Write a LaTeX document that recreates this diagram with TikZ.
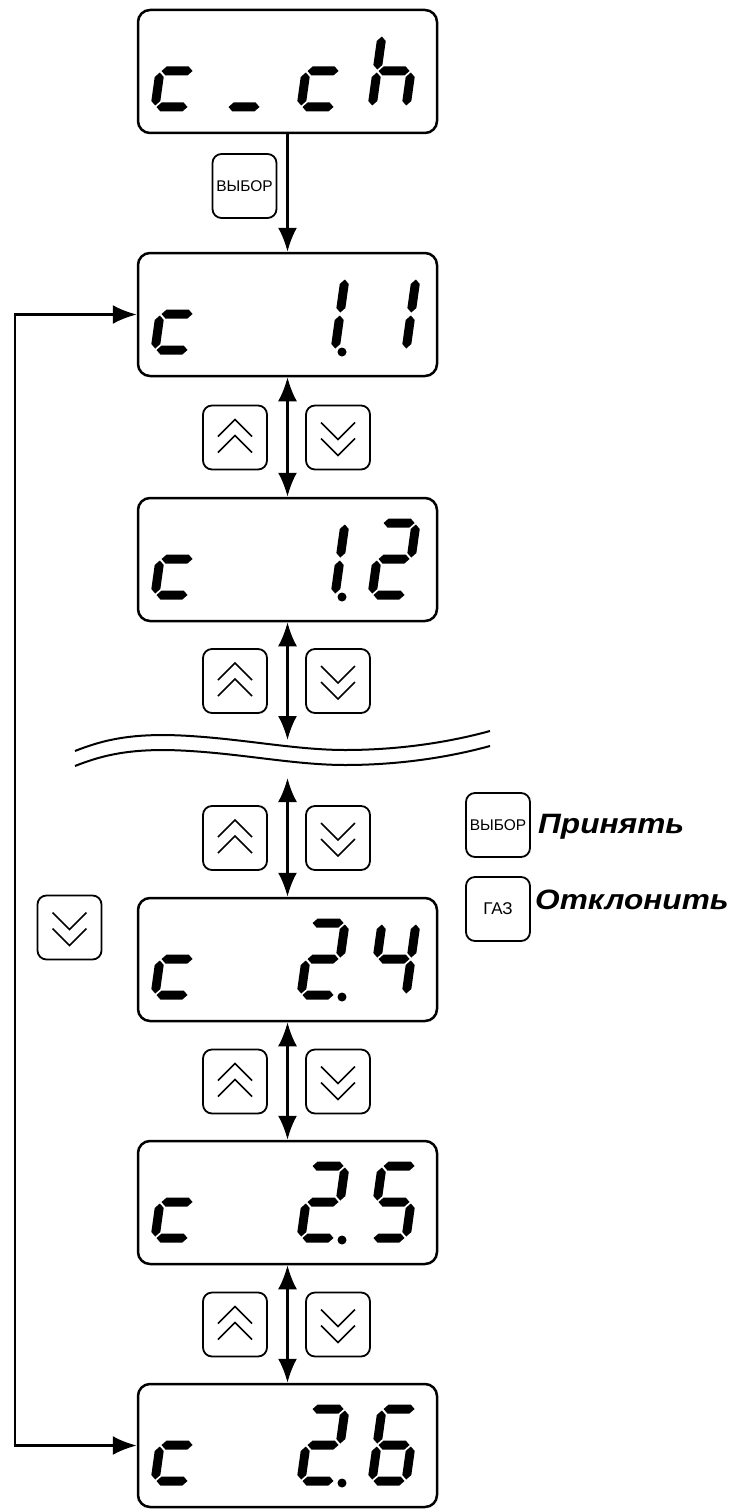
\documentclass[tikz,border=0pt]{standalone}
\usepackage{fontspec}
\newfontfamily\keyfont{Liberation Sans}
\newfontfamily\legendfont[FakeStretch=1.13]{Liberation Sans}
\usetikzlibrary{arrows.meta}

% one segment of the indicator, local (u,v) with v up
\newcommand\hseg[1]{\fill (1.5,#1) -- (6,#1+4.5) -- (28,#1+4.5) -- (32.5,#1)
  -- (28,#1-4.5) -- (6,#1-4.5) -- cycle;}
\newcommand\vseg[2]{\fill (#1,#2+1.5) -- (#1+4.5,#2+6) -- (#1+4.5,#2+30)
  -- (#1,#2+34.5) -- (#1-4.5,#2+30) -- (#1-4.5,#2+6) -- cycle;}
% characters
\newcommand\lcdc{\hseg{36}\hseg{0}\vseg{0}{0}}
\newcommand\lcdbar{\hseg{0}}
\newcommand\lcdh{\vseg{0}{36}\vseg{0}{0}\hseg{36}\vseg{34}{0}}
\newcommand\lcdone{\vseg{34}{36}\vseg{34}{0}}
\newcommand\lcdtwo{\hseg{72}\vseg{34}{36}\hseg{36}\vseg{0}{0}\hseg{0}}
\newcommand\lcdfour{\vseg{0}{36}\hseg{36}\vseg{34}{36}\vseg{34}{0}}
\newcommand\lcdfive{\hseg{72}\vseg{0}{36}\hseg{36}\vseg{34}{0}\hseg{0}}
\newcommand\lcdsix{\hseg{72}\vseg{0}{36}\hseg{36}\vseg{0}{0}\vseg{34}{0}\hseg{0}}
\newcommand\lcdat[3]{\begin{scope}[shift={(#1,#2)},xslant=0.14,yscale=-1]#3\end{scope}}
\newcommand\lcddot[1]{\fill (342,#1+2) circle (4.5);}
% key symbols
\newcommand\keyup[1]{%
  \draw[chev] ([shift={(-17,-1)}]#1.center) -- ++(17,-17) -- ++(17,17);
  \draw[chev] ([shift={(-17,15)}]#1.center) -- ++(17,-17) -- ++(17,17);}
\newcommand\keydown[1]{%
  \draw[chev] ([shift={(-17,-15)}]#1.center) -- ++(17,17) -- ++(17,-17);
  \draw[chev] ([shift={(-17,1)}]#1.center) -- ++(17,17) -- ++(17,-17);}

\begin{document}
\begin{tikzpicture}[x=1pt,y=-1pt,
    >={Latex[length=24pt,width=19pt]},
    lcdbox/.style={draw,line width=2.5pt,rounded corners=12pt,
      minimum width=299pt,minimum height=123pt,inner sep=0pt},
    keybox/.style={draw,line width=1.8pt,rounded corners=9pt,
      minimum size=64pt,inner sep=0pt,
      font=\keyfont\fontsize{15.5}{15.5}\selectfont},
    flow/.style={line width=2.5pt},
    chev/.style={line width=1.7pt},
    breakline/.style={line width=2pt},
    legend/.style={anchor=west,inner sep=0pt,
      font=\legendfont\bfseries\itshape\fontsize{28}{28}\selectfont}]
  \useasboundingbox (0,0) rectangle (735,1509);

  % indicators
  \node[lcdbox] (dchch) at (287.5,71.5) {};
  \node[lcdbox] (d11) at (287.5,314.5) {};
  \node[lcdbox] (d12) at (287.5,559.5) {};
  \node[lcdbox] (d24) at (287.5,959.5) {};
  \node[lcdbox] (d25) at (287.5,1202.5) {};
  \node[lcdbox] (d26) at (287.5,1445.5) {};

  \lcdat{155}{107}{\lcdc}\lcdat{227}{107}{\lcdbar}
  \lcdat{301}{107}{\lcdc}\lcdat{372}{107}{\lcdh}
  \lcdat{155}{350}{\lcdc}\lcdat{301}{350}{\lcdone}
  \lcddot{350}\lcdat{372}{350}{\lcdone}
  \lcdat{155}{595}{\lcdc}\lcdat{301}{595}{\lcdone}
  \lcddot{595}\lcdat{372}{595}{\lcdtwo}
  \lcdat{155}{995}{\lcdc}\lcdat{301}{995}{\lcdtwo}
  \lcddot{995}\lcdat{372}{995}{\lcdfour}
  \lcdat{155}{1238}{\lcdc}\lcdat{301}{1238}{\lcdtwo}
  \lcddot{1238}\lcdat{372}{1238}{\lcdfive}
  \lcdat{155}{1481}{\lcdc}\lcdat{301}{1481}{\lcdtwo}
  \lcddot{1481}\lcdat{372}{1481}{\lcdsix}

  % keys between the indicators
  \node[keybox] (sel) at (244.5,186) {ВЫБОР};
  \foreach \n/\y in {a/437.5,b/681,c/838,d/1081.5,e/1324.5} {
    \node[keybox] (up\n) at (235,\y) {};
    \node[keybox] (dn\n) at (338,\y) {};
    \keyup{up\n}
    \keydown{dn\n}
  }
  \node[keybox] (dnloop) at (69.5,927.5) {};
  \keydown{dnloop}

  % arrows
  \coordinate (gapt) at (287.5,740);
  \coordinate (gapb) at (287.5,778);
  \coordinate (loopx) at (15,900);
  \draw[flow,->] (dchch.south) -- (d11.north);
  \draw[flow,<->] (d11.south) -- (d12.north);
  \draw[flow,<->] (d12.south) -- (gapt);
  \draw[flow,<->] (gapb) -- (d24.north);
  \draw[flow,<->] (d24.south) -- (d25.north);
  \draw[flow,<->] (d25.south) -- (d26.north);
  \draw[flow,<->] (d11.west) -| (loopx) |- (d26.west);

  % break in the list
  \foreach \dy in {0,15}
    \draw[breakline,yshift=-\dy pt] (75,751) .. controls (105,739) and (130,735) .. (165,735)
      .. controls (230,736) and (290,750) .. (345,750)
      .. controls (400,750) and (450,742) .. (490,731);

  % legend
  \node[keybox] (selok) at (498,825) {ВЫБОР};
  \node[keybox,font=\keyfont\fontsize{17}{17}\selectfont] (gas) at (498,909) {ГАЗ};
  \node[legend] (accept) at (538,827) {Принять};
  \node[legend] (reject) at (535,900) {Отклонить};
\end{tikzpicture}
\end{document}
